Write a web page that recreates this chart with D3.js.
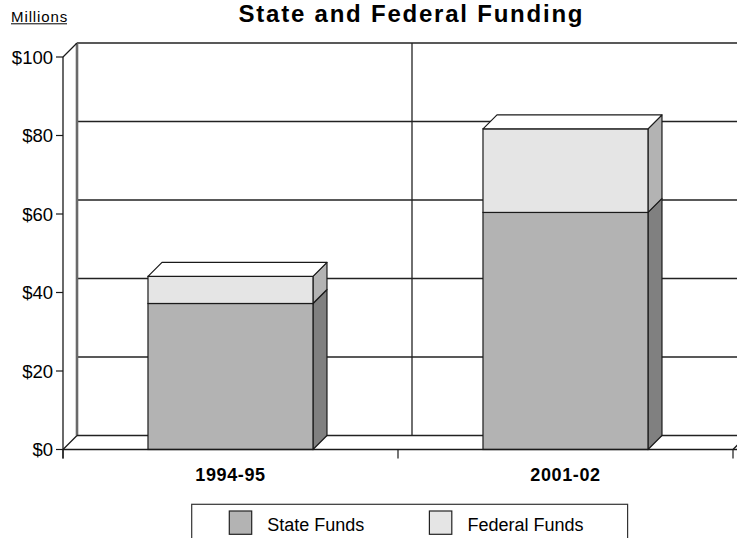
<!DOCTYPE html>
<html>
<head>
<meta charset="utf-8">
<script src="https://cdn.jsdelivr.net/npm/d3@7"></script>
<style>
  html, body { margin: 0; padding: 0; background: #fff; }
  svg { display: block; }
  text { font-family: "Liberation Sans", Arial, sans-serif; fill: #000; }
</style>
</head>
<body>
<svg id="chart" width="737" height="538"></svg>
<script>
// ---- data ----
const categories = ["1994-95", "2001-02"];
const seriesNames = ["State Funds", "Federal Funds"];
const stateFunds = [37.2, 60.4];
const federalFunds = [6.9, 21.3];
const yTicks = [0, 20, 40, 60, 80, 100];
const yTickLabels = ["$0", "$20", "$40", "$60", "$80", "$100"];
const titleText = "State and Federal Funding";
const unitText = "Millions";

// ---- styles ----
const frontColors = ["#b3b3b3", "#e5e5e5"];
const sideColors = ["#808080", "#b3b3b3"];
const topColor = "#ffffff";
const edge = "#1a1a1a";
const DX = 14, DY = -14;

const svg = d3.select("#chart");
const x = d3.scaleBand().domain(categories).range([63, 733]).paddingInner(0).paddingOuter(0);
const y = d3.scaleLinear().domain([0, 100]).range([449.5, 57]);
const xL = 63, xR = 733, W = 737;

const g = svg.append("g");

// back wall horizontal gridlines
g.selectAll("line.grid").data(yTicks.filter(v => v > 0)).join("line")
  .attr("x1", xL + DX).attr("x2", W + 5)
  .attr("y1", d => y(d) + DY).attr("y2", d => y(d) + DY)
  .attr("stroke", "#222").attr("stroke-width", 1.4);

// back wall vertical separator gridlines
g.selectAll("line.vgrid").data(categories.slice(1)).join("line")
  .attr("x1", d => x(d) + DX).attr("x2", d => x(d) + DX)
  .attr("y1", y(100) + DY).attr("y2", y(0) + DY)
  .attr("stroke", "#222").attr("stroke-width", 1.3);

// back wall left edge
g.append("line").attr("x1", xL + DX).attr("x2", xL + DX)
  .attr("y1", y(100) + DY).attr("y2", y(0) + DY)
  .attr("stroke", "#6a6a6a").attr("stroke-width", 2.6);

// top-left diagonal
g.append("line").attr("x1", xL).attr("y1", y(100)).attr("x2", xL + DX).attr("y2", y(100) + DY)
  .attr("stroke", edge).attr("stroke-width", 1.2);

// floor
g.append("line").attr("x1", xL + DX).attr("x2", W + 5).attr("y1", y(0) + DY).attr("y2", y(0) + DY)
  .attr("stroke", "#222").attr("stroke-width", 1.6);
g.append("line").attr("x1", xL).attr("y1", y(0)).attr("x2", xL + DX).attr("y2", y(0) + DY)
  .attr("stroke", edge).attr("stroke-width", 1.3);
g.append("line").attr("x1", xR).attr("y1", y(0)).attr("x2", xR + DX).attr("y2", y(0) + DY)
  .attr("stroke", edge).attr("stroke-width", 1.3);

// bars
const barFrac = 0.4925, barOff = 0.2537;
const stacks = categories.map((c, i) => {
  const vals = [stateFunds[i], federalFunds[i]];
  let base = 0;
  return vals.map((v, k) => { const s = { c, k, y0: base, y1: base + v }; base += v; return s; });
});

stacks.forEach(segs => {
  segs.forEach((s, idx) => {
    const x0 = x(s.c) + x.bandwidth() * barOff;
    const x1 = x0 + x.bandwidth() * barFrac;
    const yt = y(s.y1), yb = y(s.y0);
    // side face
    g.append("path")
      .attr("d", `M${x1},${yt}L${x1 + DX},${yt + DY}L${x1 + DX},${yb + DY}L${x1},${yb}Z`)
      .attr("fill", sideColors[s.k]).attr("stroke", edge).attr("stroke-width", 1.2)
      .attr("stroke-linejoin", "round");
    // front face
    g.append("rect").attr("x", x0).attr("y", yt).attr("width", x1 - x0).attr("height", yb - yt)
      .attr("fill", frontColors[s.k]).attr("stroke", edge).attr("stroke-width", 1.2);
    if (idx === segs.length - 1) {
      g.append("path")
        .attr("d", `M${x0},${yt}L${x0 + DX},${yt + DY}L${x1 + DX},${yt + DY}L${x1},${yt}Z`)
        .attr("fill", topColor).attr("stroke", edge).attr("stroke-width", 1.2)
        .attr("stroke-linejoin", "round");
    }
  });
});

// front floor line / x axis
g.append("line").attr("x1", xL).attr("x2", W + 5).attr("y1", y(0)).attr("y2", y(0))
  .attr("stroke", edge).attr("stroke-width", 1.6);

// x ticks at band boundaries
const xBounds = categories.map(c => x(c)).concat([x(categories[categories.length - 1]) + x.bandwidth()]);
g.selectAll("line.xt").data(xBounds).join("line")
  .attr("x1", d => d).attr("x2", d => d).attr("y1", y(0)).attr("y2", y(0) + 9)
  .attr("stroke", edge).attr("stroke-width", 1.2);

// category labels
g.selectAll("text.cat").data(categories).join("text")
  .attr("x", d => x(d) + x.bandwidth() / 2).attr("y", 481)
  .attr("text-anchor", "middle").attr("font-size", 18).attr("font-weight", "bold")
  .attr("letter-spacing", 0.6)
  .text(d => d);

// y axis
g.append("line").attr("x1", xL).attr("x2", xL).attr("y1", y(100)).attr("y2", y(0) + 9)
  .attr("stroke", edge).attr("stroke-width", 1.3);
g.selectAll("line.yt").data(yTicks).join("line")
  .attr("x1", xL - 7).attr("x2", xL).attr("y1", d => y(d)).attr("y2", d => y(d))
  .attr("stroke", edge).attr("stroke-width", 1.2);
g.selectAll("text.yl").data(yTicks).join("text")
  .attr("x", xL - 10).attr("y", d => y(d) + 6.5)
  .attr("text-anchor", "end").attr("font-size", 18.5)
  .text((d, i) => yTickLabels[i]);

// unit label
svg.append("text").attr("x", 11).attr("y", 21.7).attr("font-size", 15).attr("letter-spacing", 0.9)
  .text(unitText);
svg.append("line").attr("x1", 11).attr("x2", 67).attr("y1", 23.8).attr("y2", 23.8)
  .attr("stroke", "#000").attr("stroke-width", 1);

// title
svg.append("text").attr("x", 238.5).attr("y", 22)
  .attr("font-size", 24).attr("font-weight", "bold")
  .attr("textLength", 344).attr("lengthAdjust", "spacing").text(titleText);

// legend
const lg = svg.append("g");
lg.append("rect").attr("x", 191.7).attr("y", 504.3).attr("width", 435.9).attr("height", 50)
  .attr("fill", "#fff").attr("stroke", "#333").attr("stroke-width", 1.2);
const legX = [229.3, 429.4];
seriesNames.forEach((n, i) => {
  lg.append("rect").attr("x", legX[i]).attr("y", 511).attr("width", 22.4).attr("height", 23.3)
    .attr("fill", frontColors[i]).attr("stroke", "#222").attr("stroke-width", 1.2);
  lg.append("text").attr("x", legX[i] + 38).attr("y", 531).attr("font-size", 18).text(n);
});
</script>
</body>
</html>
